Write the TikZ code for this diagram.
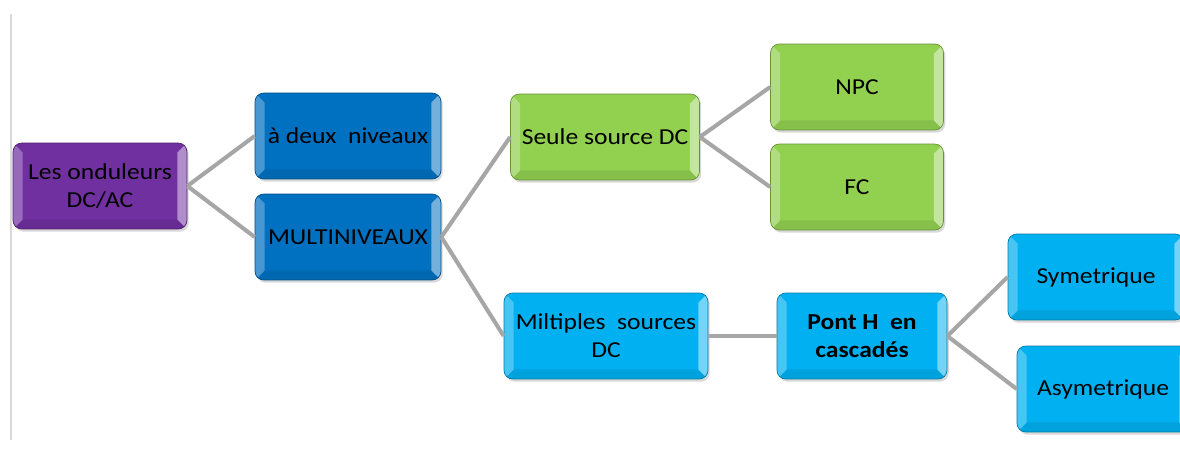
\documentclass[tikz,border=0pt]{standalone}
\usepackage{fontspec}
\setmainfont{Carlito}[FakeStretch=1.12]
\usepackage{xcolor}
\usetikzlibrary{positioning,shadows}
\definecolor{ondpurple}{HTML}{7030A0}
\definecolor{niveblue}{HTML}{0070C0}
\definecolor{srcgreen}{HTML}{92D050}
\definecolor{cyanblue}{HTML}{00B0F0}
\definecolor{linkgray}{HTML}{A6A6A6}
\definecolor{pagegray}{HTML}{D9D9D9}
\tikzset{
  bevel/.style={rectangle,rounded corners=5pt,fill=#1,draw=#1!70!black,line width=0.4pt,
    minimum height=1.72cm,align=center,text=black,font=\fontsize{13}{16}\selectfont,
    drop shadow={opacity=0.3,shadow xshift=1pt,shadow yshift=-1.5pt},
    path picture={
      \fill[sharp corners,#1!92!black] (path picture bounding box.south west) -- ([xshift=5.5pt,yshift=5.5pt]path picture bounding box.south west)
        -- ([xshift=-5.5pt,yshift=5.5pt]path picture bounding box.south east) -- (path picture bounding box.south east) -- cycle;
      \fill[sharp corners,#1!72!white] (path picture bounding box.south west) -- ([xshift=5.5pt,yshift=5.5pt]path picture bounding box.south west)
        -- ([xshift=5.5pt,yshift=-5.5pt]path picture bounding box.north west) -- (path picture bounding box.north west) -- cycle;
      \fill[sharp corners,#1!55!white] (path picture bounding box.south east) -- ([xshift=-5.5pt,yshift=5.5pt]path picture bounding box.south east)
        -- ([xshift=-5.5pt,yshift=-5.5pt]path picture bounding box.north east) -- (path picture bounding box.north east) -- cycle;
    }},
  link/.style={draw=linkgray,line width=2.3pt},
  pageline/.style={draw=pagegray,line width=0.6pt},
}
\begin{document}
\begin{tikzpicture}[x=0.02cm,y=-0.02cm]
  \useasboundingbox[fill=white] (0,0) rectangle (1180,450);
  \draw[pageline] (11,14) -- (11,440);
  % first level
  \node[bevel=ondpurple,minimum width=3.48cm] (ond) at (100,186) {Les onduleurs\\DC/AC};
  \node[bevel=niveblue,minimum width=3.72cm] (deux) at (348,136) {à deux\ \ niveaux};
  \node[bevel=niveblue,minimum width=3.72cm] (multi) at (348,237) {MULTINIVEAUX};
  % sources
  \node[bevel=srcgreen,minimum width=3.78cm] (seule) at (605,137) {Seule source DC};
  \node[bevel=srcgreen,minimum width=3.46cm] (npc) at (857,87) {NPC};
  \node[bevel=srcgreen,minimum width=3.46cm] (fc) at (857,187) {FC};
  \node[bevel=cyanblue,minimum width=4.08cm] (mult) at (606,336) {Miltiples\ \ sources\\DC};
  \node[bevel=cyanblue,minimum width=3.40cm] (pont) at (862,336) {\bfseries Pont H\ \ en\\\bfseries cascadés};
  \node[bevel=cyanblue,minimum width=3.52cm] (sym) at (1096,277) {Symetrique};
  \node[bevel=cyanblue,minimum width=3.44cm] (asym) at (1103,389) {Asymetrique};
  % links
  \draw[link] (ond.east) -- (deux.west);
  \draw[link] (ond.east) -- (multi.west);
  \draw[link] (multi.east) -- (seule.west);
  \draw[link] (multi.east) -- (mult.west);
  \draw[link] (seule.east) -- (npc.west);
  \draw[link] (seule.east) -- (fc.west);
  \draw[link] (mult.east) -- (pont.west);
  \draw[link] (pont.east) -- (sym.west);
  \draw[link] (pont.east) -- (asym.west);
\end{tikzpicture}
\end{document}
